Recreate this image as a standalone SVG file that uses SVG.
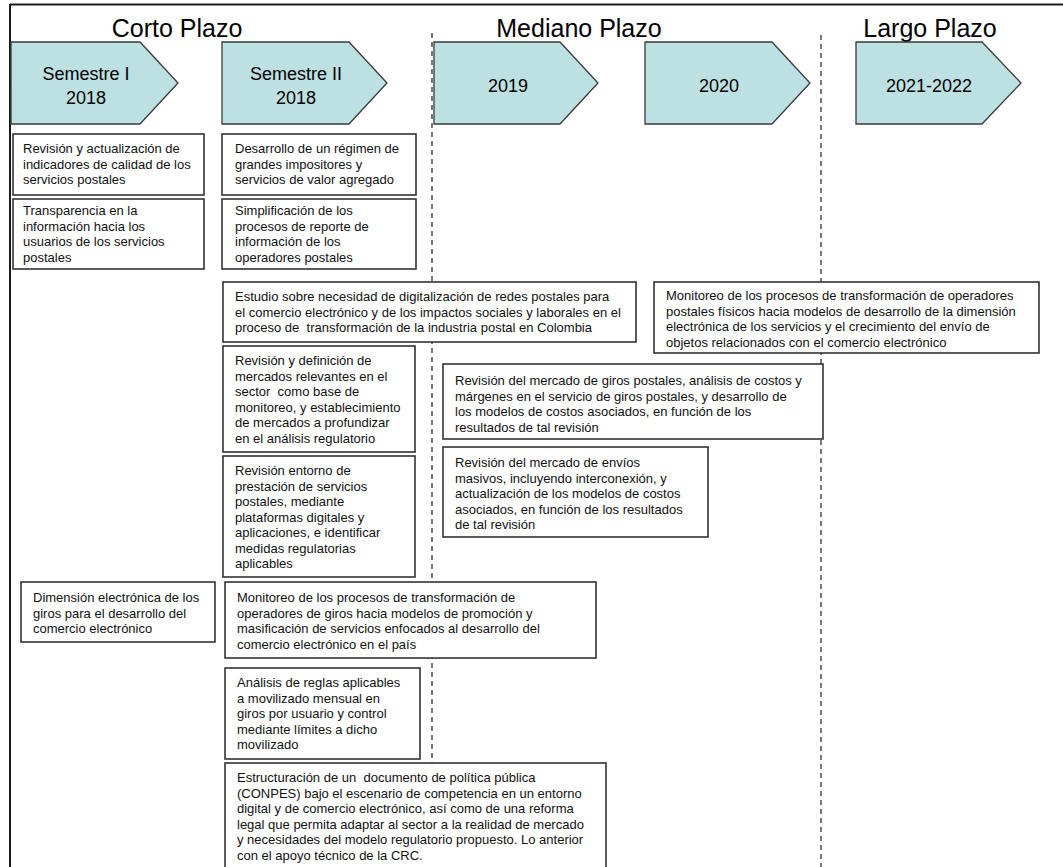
<svg xmlns="http://www.w3.org/2000/svg" width="1063" height="867" viewBox="0 0 1063 867">
<defs>
<style>
.frame{stroke:#1a1a1a;stroke-width:2;fill:none}
.guide{stroke:#333;stroke-width:1.3;stroke-dasharray:5 4;fill:none}
.arrow{fill:#bde0e3;stroke:#3a3a3a;stroke-width:1.3}
.box{fill:#fff;stroke:#333;stroke-width:1.6}
.hdr{font-family:"Liberation Sans",Arial,sans-serif;font-size:25px;fill:#000;text-anchor:middle}
.at{font-family:"Liberation Sans",Arial,sans-serif;font-size:18px;fill:#000;text-anchor:middle}
.bt{font-family:"Liberation Sans",Arial,sans-serif;font-size:13px;fill:#111;white-space:pre}
</style>
</defs>
<rect width="1063" height="867" fill="#fff"/>
<g id="frame">
<line class="frame" x1="10" y1="4.5" x2="1063" y2="4.5"/>
<line class="frame" x1="10" y1="4" x2="10" y2="867"/>
</g>
<g id="guides">
<line class="guide" x1="432" y1="33" x2="432" y2="867"/>
<line class="guide" x1="821" y1="35" x2="821" y2="867"/>
</g>
<g id="headers">
<text class="hdr" x="177" y="37">Corto Plazo</text>
<text class="hdr" x="579" y="37">Mediano Plazo</text>
<text class="hdr" x="930" y="37">Largo Plazo</text>
</g>
<g id="arrow-s1"><path class="arrow" d="M11,42 H140 L178,83 L140,124 H11 Z"/><text class="at" x="86" y="80">Semestre I</text><text class="at" x="86" y="104">2018</text></g>
<g id="arrow-s2"><path class="arrow" d="M222,42 H349 L387,83 L349,124 H222 Z"/><text class="at" x="296" y="80">Semestre II</text><text class="at" x="296" y="104">2018</text></g>
<g id="arrow-2019"><path class="arrow" d="M434,42 H560 L598,83 L560,124 H434 Z"/><text class="at" x="508" y="92">2019</text></g>
<g id="arrow-2020"><path class="arrow" d="M645,42 H772 L810,83 L772,124 H645 Z"/><text class="at" x="719" y="92">2020</text></g>
<g id="arrow-2021"><path class="arrow" d="M856,42 H982 L1021,83 L982,124 H856 Z"/><text class="at" x="929" y="92">2021-2022</text></g>

<g id="box-a"><rect class="box" x="13" y="134" width="191" height="61"/>
<text class="bt" x="23" y="153"><tspan x="23">Revisión y actualización de</tspan><tspan x="23" dy="15.5">indicadores de calidad de los</tspan><tspan x="23" dy="15.5">servicios postales</tspan></text></g>
<g id="box-b"><rect class="box" x="222" y="134" width="194" height="61"/>
<text class="bt" x="235" y="153"><tspan x="235">Desarrollo de un régimen de</tspan><tspan x="235" dy="15.5">grandes impositores y</tspan><tspan x="235" dy="15.5">servicios de valor agregado</tspan></text></g>
<g id="box-c"><rect class="box" x="13" y="199" width="191" height="70"/>
<text class="bt" x="23" y="215"><tspan x="23">Transparencia en la</tspan><tspan x="23" dy="15.5">información hacia los</tspan><tspan x="23" dy="15.5">usuarios de los servicios</tspan><tspan x="23" dy="15.5">postales</tspan></text></g>
<g id="box-d"><rect class="box" x="222" y="199" width="194" height="70"/>
<text class="bt" x="235" y="215"><tspan x="235">Simplificación de los</tspan><tspan x="235" dy="15.5">procesos de reporte de</tspan><tspan x="235" dy="15.5">información de los</tspan><tspan x="235" dy="15.5">operadores postales</tspan></text></g>
<g id="box-e"><rect class="box" x="223" y="282" width="413" height="60"/>
<text class="bt" x="235" y="301"><tspan x="235">Estudio sobre necesidad de digitalización de redes postales para</tspan><tspan x="235" dy="15.5">el comercio electrónico y de los impactos sociales y laborales en el</tspan><tspan x="235" dy="15.5">proceso de  transformación de la industria postal en Colombia</tspan></text></g>
<g id="box-monitoreo-postal"><rect class="box" x="654" y="282" width="385" height="71"/>
<text class="bt" x="666" y="300"><tspan x="666">Monitoreo de los procesos de transformación de operadores</tspan><tspan x="666" dy="15.5">postales físicos hacia modelos de desarrollo de la dimensión</tspan><tspan x="666" dy="15.5">electrónica de los servicios y el crecimiento del envío de</tspan><tspan x="666" dy="15.5">objetos relacionados con el comercio electrónico</tspan></text></g>
<g id="box-f"><rect class="box" x="223" y="346" width="192" height="106"/>
<text class="bt" x="235" y="365"><tspan x="235">Revisión y definición de</tspan><tspan x="235" dy="15.5">mercados relevantes en el</tspan><tspan x="235" dy="15.5">sector  como base de</tspan><tspan x="235" dy="15.5">monitoreo, y establecimiento</tspan><tspan x="235" dy="15.5">de mercados a profundizar</tspan><tspan x="235" dy="15.5">en el análisis regulatorio</tspan></text></g>
<g id="box-h"><rect class="box" x="443" y="364" width="380" height="75"/>
<text class="bt" x="455" y="385"><tspan x="455">Revisión del mercado de giros postales, análisis de costos y</tspan><tspan x="455" dy="15.5">márgenes en el servicio de giros postales, y desarrollo de</tspan><tspan x="455" dy="15.5">los modelos de costos asociados, en función de los</tspan><tspan x="455" dy="15.5">resultados de tal revisión</tspan></text></g>
<g id="box-i"><rect class="box" x="443" y="447" width="265" height="90"/>
<text class="bt" x="455" y="467"><tspan x="455">Revisión del mercado de envíos</tspan><tspan x="455" dy="15.5">masivos, incluyendo interconexión, y</tspan><tspan x="455" dy="15.5">actualización de los modelos de costos</tspan><tspan x="455" dy="15.5">asociados, en función de los resultados</tspan><tspan x="455" dy="15.5">de tal revisión</tspan></text></g>
<g id="box-g"><rect class="box" x="223" y="456" width="192" height="121"/>
<text class="bt" x="235" y="475"><tspan x="235">Revisión entorno de</tspan><tspan x="235" dy="15.5">prestación de servicios</tspan><tspan x="235" dy="15.5">postales, mediante</tspan><tspan x="235" dy="15.5">plataformas digitales y</tspan><tspan x="235" dy="15.5">aplicaciones, e identificar</tspan><tspan x="235" dy="15.5">medidas regulatorias</tspan><tspan x="235" dy="15.5">aplicables</tspan></text></g>
<g id="box-j"><rect class="box" x="21" y="582" width="194" height="60"/>
<text class="bt" x="33" y="602"><tspan x="33">Dimensión electrónica de los</tspan><tspan x="33" dy="15.5">giros para el desarrollo del</tspan><tspan x="33" dy="15.5">comercio electrónico</tspan></text></g>
<g id="box-k"><rect class="box" x="225" y="582" width="371" height="76"/>
<text class="bt" x="237" y="602"><tspan x="237">Monitoreo de los procesos de transformación de</tspan><tspan x="237" dy="15.5">operadores de giros hacia modelos de promoción y</tspan><tspan x="237" dy="15.5">masificación de servicios enfocados al desarrollo del</tspan><tspan x="237" dy="15.5">comercio electrónico en el país</tspan></text></g>
<g id="box-l"><rect class="box" x="225" y="668" width="195" height="91"/>
<text class="bt" x="237" y="687"><tspan x="237">Análisis de reglas aplicables</tspan><tspan x="237" dy="15.5">a movilizado mensual en</tspan><tspan x="237" dy="15.5">giros por usuario y control</tspan><tspan x="237" dy="15.5">mediante límites a dicho</tspan><tspan x="237" dy="15.5">movilizado</tspan></text></g>
<g id="box-m"><rect class="box" x="225" y="763" width="381" height="120"/>
<text class="bt" x="237" y="782"><tspan x="237">Estructuración de un  documento de política pública</tspan><tspan x="237" dy="15.5">(CONPES) bajo el escenario de competencia en un entorno</tspan><tspan x="237" dy="15.5">digital y de comercio electrónico, así como de una reforma</tspan><tspan x="237" dy="15.5">legal que permita adaptar al sector a la realidad de mercado</tspan><tspan x="237" dy="15.5">y necesidades del modelo regulatorio propuesto. Lo anterior</tspan><tspan x="237" dy="15.5">con el apoyo técnico de la CRC.</tspan></text></g>
<g id="connectors"></g>
</svg>
